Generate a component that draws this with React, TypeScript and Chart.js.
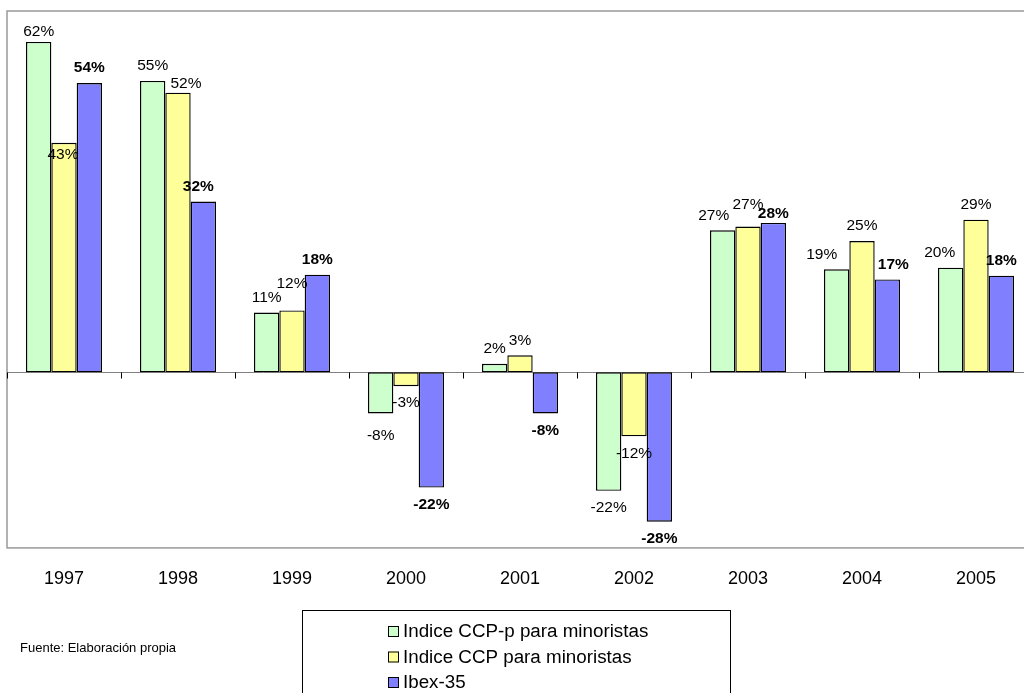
import React, { useEffect, useRef } from "react";
import { Chart, registerables } from "chart.js";

Chart.register(...registerables);

const years = ["1997", "1998", "1999", "2000", "2001", "2002", "2003", "2004", "2005"];
const ccpP = [61.9, 54.6, 11.2, -7.7, 1.6, -22.2, 26.6, 19.3, 19.6];
const ccp = [43.0, 52.4, 11.6, -2.6, 3.2, -12.0, 27.3, 24.6, 28.6];
const ibex = [54.2, 32.0, 18.3, -21.6, -7.7, -28.0, 28.0, 17.4, 18.1];
const seriesNames = ["Indice CCP-p para minoristas", "Indice CCP para minoristas", "Ibex-35"];
const seriesColors = ["#CCFFCC", "#FFFF99", "#8080FF"];
const sourceNote = "Fuente: Elaboración propia";

// label nudges (dx, dy) keyed by "dataset-index", mimicking the original placement
const labelNudge: Record<string, [number, number]> = {
  "0-0": [0, 5],
  "1-0": [-1, 27],
  "1-1": [8, 6],
  "2-1": [-5, 0],
  "1-2": [0, -12],
  "0-3": [0, 5],
  "1-6": [0, -7],
  "2-6": [0, 6],
  "0-6": [-9, 0],
  "0-7": [-15, 0],
  "2-7": [6, 0],
  "0-8": [-11, 0],
};

const FONT = "'Liberation Sans', Arial, sans-serif";

const framePlugin = {
  id: "frame",
  beforeDatasetsDraw(chart: any) {
    const { ctx, chartArea } = chart;
    const y0 = Math.round(chart.scales.y.getPixelForValue(0)) + 0.5;
    ctx.save();
    ctx.strokeStyle = "#999999";
    ctx.lineWidth = 1.5;
    ctx.strokeRect(chartArea.left, chartArea.top, chartArea.right - chartArea.left, chartArea.bottom - chartArea.top);
    ctx.strokeStyle = "#808080";
    ctx.lineWidth = 1;
    ctx.beginPath();
    ctx.moveTo(chartArea.left, y0);
    ctx.lineTo(chartArea.right, y0);
    ctx.stroke();
    ctx.restore();
  },
  afterDatasetsDraw(chart: any) {
    const { ctx, chartArea } = chart;
    const xs = chart.scales.x;
    const y0 = Math.round(chart.scales.y.getPixelForValue(0)) + 0.5;
    const n = years.length;
    const w = (chartArea.right - chartArea.left) / n;
    ctx.save();
    ctx.strokeStyle = "#000000";
    ctx.lineWidth = 1;
    ctx.beginPath();
    for (let i = 0; i <= n; i++) {
      const x = Math.round(xs.getPixelForValue(0) - w / 2 + i * w) + 0.5;
      ctx.moveTo(x, y0);
      ctx.lineTo(x, y0 + 6);
    }
    ctx.stroke();

    // data labels
    ctx.fillStyle = "#000000";
    ctx.textAlign = "center";
    ctx.textBaseline = "middle";
    chart.data.datasets.forEach((ds: any, di: number) => {
      const meta = chart.getDatasetMeta(di);
      ctx.font = (di === 2 ? "bold " : "") + "15.5px " + FONT;
      meta.data.forEach((el: any, i: number) => {
        const v = ds.data[i];
        const nudge = labelNudge[di + "-" + i] || [0, 0];
        const cy = v >= 0 ? el.y - 15 : el.y + 17;
        ctx.fillText(Math.round(v) + "%", el.x + nudge[0], cy + nudge[1]);
      });
    });

    // legend box
    ctx.strokeStyle = "#000000";
    ctx.lineWidth = 1;
    ctx.strokeRect(302.5, 610.5, 428, 100);
    const rows = [631, 656.5, 682];
    ctx.font = "18.8px " + FONT;
    ctx.textAlign = "left";
    seriesNames.forEach((name, i) => {
      ctx.fillStyle = seriesColors[i];
      ctx.fillRect(388, rows[i] - 5, 11, 11);
      ctx.strokeStyle = "#000000";
      ctx.strokeRect(388.5, rows[i] - 4.5, 10, 10);
      ctx.fillStyle = "#000000";
      ctx.fillText(name, 403, rows[i] + 1);
    });

    // source note
    ctx.font = "13px " + FONT;
    ctx.fillText(sourceNote, 20, 648);
    ctx.restore();
  },
};

export default function App() {
  const ref = useRef<HTMLCanvasElement>(null);
  useEffect(() => {
    if (!ref.current) return;
    const data = [ccpP, ccp, ibex];
    const chart = new Chart(ref.current, {
      type: "bar",
      data: {
        labels: years,
        datasets: seriesNames.map((name, i) => ({
          label: name,
          data: data[i],
          backgroundColor: seriesColors[i],
          borderColor: "#000000",
          borderWidth: 1.4,
          borderSkipped: false,
          categoryPercentage: 0.6667,
          barPercentage: 1,
        })),
      },
      options: {
        responsive: false,
        animation: false,
        events: [],
        layout: { padding: { left: 7, right: 7, top: 11, bottom: 83.5 } },
        plugins: { legend: { display: false }, tooltip: { enabled: false }, title: { display: false } },
        scales: {
          x: {
            grid: { display: false, drawTicks: false },
            border: { display: false },
            ticks: { color: "#000000", font: { family: FONT, size: 18 }, padding: 20 },
          },
          y: { display: false, min: -32.9, max: 67.7 },
        },
      },
      plugins: [framePlugin],
    });
    return () => chart.destroy();
  }, []);
  return (
    <div style={{ position: "fixed", left: 0, top: 0, width: 1024, height: 693, overflow: "hidden", background: "#fff" }}>
      <canvas ref={ref} width={1040} height={693} style={{ display: "block" }} />
    </div>
  );
}
